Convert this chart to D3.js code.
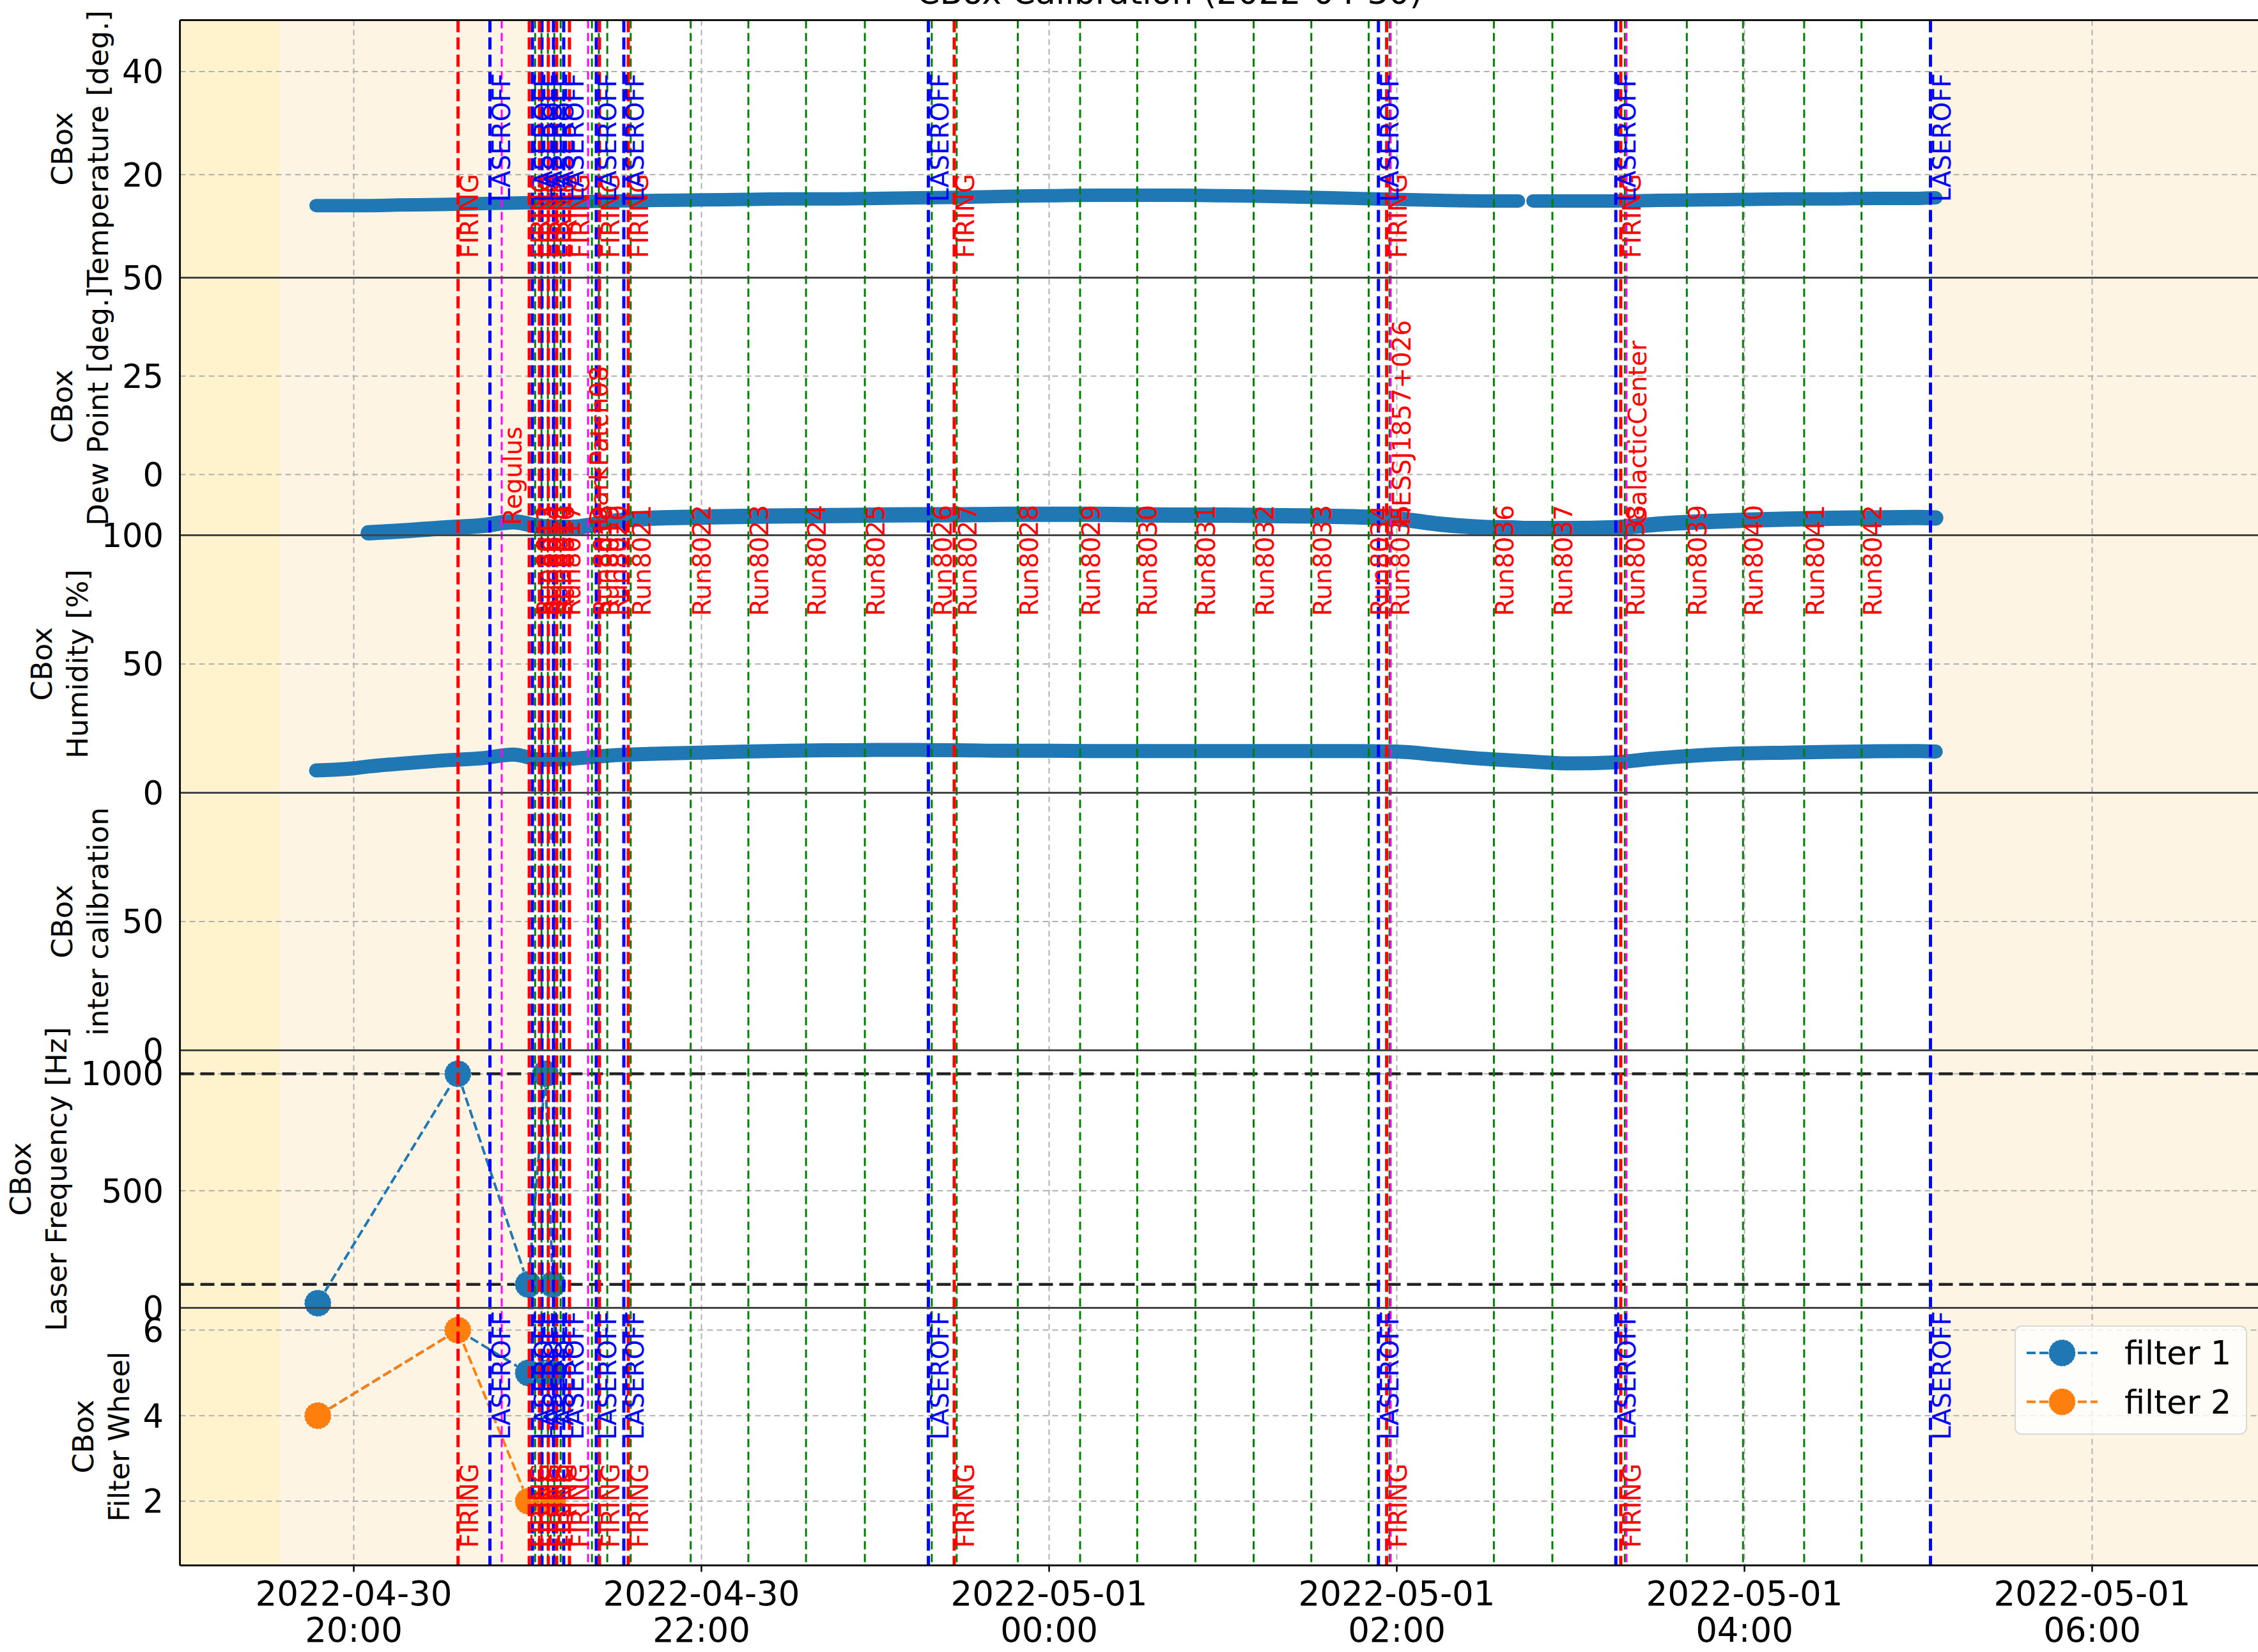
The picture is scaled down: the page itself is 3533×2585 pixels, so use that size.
<!DOCTYPE html>
<html>
<head>
<meta charset="utf-8">
<script src="https://cdn.jsdelivr.net/npm/d3@7"></script>
<style>
  body { margin: 0; background: #fff; }
  text { font-family: "DejaVu Sans", sans-serif; }
</style>
</head>
<body>
<div class="chart"></div>
<script>
// ---- data ----
const sampleTimes = ["2022-04-30 19:47","2022-04-30 20:00","2022-04-30 20:05","2022-04-30 20:15","2022-04-30 20:30","2022-04-30 20:45","2022-04-30 20:55","2022-04-30 21:05","2022-04-30 21:15","2022-04-30 21:30","2022-04-30 21:45","2022-04-30 22:00","2022-04-30 22:15","2022-04-30 22:30","2022-04-30 22:45","2022-04-30 23:00","2022-04-30 23:15","2022-04-30 23:30","2022-04-30 23:45","2022-05-01 00:00","2022-05-01 00:15","2022-05-01 00:30","2022-05-01 00:45","2022-05-01 01:00","2022-05-01 01:15","2022-05-01 01:30","2022-05-01 01:45","2022-05-01 02:00","2022-05-01 02:15","2022-05-01 02:30","2022-05-01 02:42","2022-05-01 02:44","2022-05-01 02:47","2022-05-01 03:00","2022-05-01 03:15","2022-05-01 03:30","2022-05-01 03:45","2022-05-01 04:00","2022-05-01 04:15","2022-05-01 04:30","2022-05-01 04:45","2022-05-01 05:00","2022-05-01 05:06"];
const temperature = [14.0,14.0,14.0,14.1,14.2,14.4,14.5,14.6,14.7,14.9,15.0,15.1,15.2,15.3,15.3,15.4,15.5,15.6,15.8,15.9,16.0,16.0,16.0,15.9,15.8,15.6,15.4,15.2,15.0,14.9,14.9,null,14.9,14.9,14.9,15.0,15.1,15.2,15.3,15.3,15.4,15.4,15.5];
const dewPoint = [null,null,-14.8,-14.4,-13.6,-12.9,-12.0,-13.2,-13.4,-11.8,-11.0,-10.8,-10.6,-10.5,-10.4,-10.3,-10.2,-10.2,-10.1,-10.1,-10.1,-10.2,-10.3,-10.3,-10.4,-10.5,-10.7,-11.2,-12.6,-13.4,-13.6,-13.7,-13.7,-13.7,-13.5,-12.6,-12.0,-11.6,-11.3,-11.1,-11.0,-10.9,-11.0];
const humidity = [8.7,9.5,10.2,11.2,12.5,13.5,14.8,12.8,13.2,14.6,15.2,15.6,16.0,16.3,16.5,16.6,16.6,16.5,16.3,16.3,16.2,16.2,16.2,16.2,16.2,16.2,16.2,16.0,14.6,13.2,12.4,12.3,12.1,11.4,11.8,13.4,14.6,15.3,15.6,15.9,16.1,16.2,16.0];

const interTimes = ["2022-04-30 21:08:40"];
const interValues = [83];

const configTimes = ["2022-04-30 19:47:36","2022-04-30 20:35:55","2022-04-30 21:00:14","2022-04-30 21:06:09","2022-04-30 21:08:40"];
const laserFreq = [20, 1000, 100, 1000, 100];
const laserRefs = [100, 1000];
const filter1 = [4, 6, 5, 5, 5];
const filter2 = [4, 6, 2, 2, 2];

const firingTimes = ["2022-04-30 20:36:00","2022-04-30 21:00:34","2022-04-30 21:04:05","2022-04-30 21:07:10","2022-04-30 21:10:02","2022-04-30 21:14:27","2022-04-30 21:24:49","2022-04-30 21:34:45","2022-04-30 23:27:15","2022-05-01 01:56:30","2022-05-01 03:17:18"];
const laserOffTimes = ["2022-04-30 20:47:00","2022-04-30 21:01:40","2022-04-30 21:04:58","2022-04-30 21:08:56","2022-04-30 21:12:28","2022-04-30 21:23:43","2022-04-30 21:33:13","2022-04-30 23:18:20","2022-05-01 01:53:40","2022-05-01 03:15:36","2022-05-01 05:04:12"];
const sourceNames = ["Regulus","DarkPatch08","HESSJ1857+026","GalacticCenter"];
const sourceTimes = ["2022-04-30 20:51:04","2022-04-30 21:20:52","2022-05-01 01:57:54","2022-05-01 03:19:18"];
const runNames = ["Run8013","Run8014","Run8015","Run8016","Run8017","Run8018","Run8019","Run8020","Run8021","Run8022","Run8023","Run8024","Run8025","Run8026","Run8027","Run8028","Run8029","Run8030","Run8031","Run8032","Run8033","Run8034","Run8035","Run8036","Run8037","Run8038","Run8039","Run8040","Run8041","Run8042"];
const runTimes = ["2022-04-30 21:02:36","2022-04-30 21:04:48","2022-04-30 21:07:00","2022-04-30 21:09:12","2022-04-30 21:11:24","2022-04-30 21:22:12","2022-04-30 21:24:36","2022-04-30 21:27:30","2022-04-30 21:35:36","2022-04-30 21:56:18","2022-04-30 22:16:12","2022-04-30 22:36:06","2022-04-30 22:56:24","2022-04-30 23:19:30","2022-04-30 23:28:06","2022-04-30 23:49:12","2022-05-01 00:10:42","2022-05-01 00:30:24","2022-05-01 00:50:30","2022-05-01 01:10:36","2022-05-01 01:30:30","2022-05-01 01:50:18","2022-05-01 01:57:30","2022-05-01 02:33:30","2022-05-01 02:53:42","2022-05-01 03:18:42","2022-05-01 03:40:06","2022-05-01 03:59:30","2022-05-01 04:20:36","2022-05-01 04:40:24"];

const twilightStart = ["2022-04-30 19:00:00","2022-04-30 19:34:30","2022-05-01 05:04:36"];
const twilightEnd   = ["2022-04-30 19:34:30","2022-04-30 20:59:54","2022-05-01 07:30:00"];
const twilightKind  = ["civil","astro","astro"];

const panelLabels = ["Temperature [deg.]","Dew Point [deg.]","Humidity [%]","inter calibration","Laser Frequency [Hz]","Filter Wheel"];
const panelDomains = [[0,50],[-15.4,50],[0,100],[0,100],[0,1100],[0.5,6.52]];
const panelTicks = [[20,40],[0,25,50],[0,50,100],[0,50],[0,500,1000],[2,4,6]];
const xTickTimes = ["2022-04-30 20:00:00","2022-04-30 22:00:00","2022-05-01 00:00:00","2022-05-01 02:00:00","2022-05-01 04:00:00","2022-05-01 06:00:00"];
const legendNames = ["filter 1","filter 2"];

// ---- layout ----
const W = 3533, H = 2585;
const plotLeft = 281.5, plotRight = 3545.5;
const plotTop = 31.5, panelH = 403;
const plotBottom = plotTop + 6 * panelH;
const blue = "#1f77b4", orange = "#ff7f0e";

const parseT = s => d3.timeParse("%Y-%m-%d %H:%M:%S")(s.length === 16 ? s + ":00" : s);

const svg = d3.select('.chart').append('svg')
    .attr("width", W)
    .attr("height", H);

svg.append("rect").attr("width", W).attr("height", H).attr("fill", "#fff");

const xScale = d3.scaleTime()
    .domain([parseT("2022-04-30 19:00"), parseT("2022-05-01 07:00")])
    .range([plotLeft, plotRight]);

const yScales = panelDomains.map((d, i) => d3.scaleLinear()
    .domain(d)
    .range([plotTop + (i + 1) * panelH, plotTop + i * panelH]));

svg.append("clipPath").attr("id", "plotclip")
  .append("rect")
    .attr("x", plotLeft).attr("y", plotTop)
    .attr("width", plotRight - plotLeft).attr("height", plotBottom - plotTop);

const plot = svg.append("g").attr("clip-path", "url(#plotclip)");

// twilight shading
const shadeColor = {civil: "#fff3cd", astro: "#fdf4e4"};
plot.selectAll("rect.shade")
    .data(twilightStart.map((s, i) => ({s: parseT(s), e: parseT(twilightEnd[i]), k: twilightKind[i]})))
    .enter().append("rect")
    .attr("class", "shade")
    .attr("x", d => xScale(d.s))
    .attr("width", d => xScale(d.e) - xScale(d.s))
    .attr("y", plotTop)
    .attr("height", plotBottom - plotTop)
    .attr("fill", d => shadeColor[d.k]);

// grid
plot.selectAll("line.xgrid")
    .data(xTickTimes.map(parseT))
    .enter().append("line")
    .attr("x1", d => xScale(d)).attr("x2", d => xScale(d))
    .attr("y1", plotTop).attr("y2", plotBottom)
    .attr("stroke", "#b0b0b0").attr("stroke-width", 2).attr("stroke-dasharray", "9,6");

panelTicks.forEach((ticks, i) => {
  plot.selectAll("line.ygrid" + i)
      .data(ticks)
      .enter().append("line")
      .attr("x1", plotLeft).attr("x2", plotRight)
      .attr("y1", d => yScales[i](d)).attr("y2", d => yScales[i](d))
      .attr("stroke", "#b0b0b0").attr("stroke-width", 2).attr("stroke-dasharray", "9,6");
});

// sensor bands (dense scatter drawn as a thick stroke)
const series = [temperature, dewPoint, humidity];
const bandWidth = [21, 24, 22];
series.forEach((vals, i) => {
  const pts = sampleTimes.map((t, j) => ({t: parseT(t), v: vals[j]}));
  const line = d3.line()
      .defined(d => d.v !== null)
      .x(d => xScale(d.t))
      .y(d => yScales[i](d.v))
      .curve(d3.curveMonotoneX);
  plot.append("path")
      .datum(pts)
      .attr("d", line)
      .attr("fill", "none")
      .attr("stroke", blue)
      .attr("stroke-width", bandWidth[i])
      .attr("stroke-linecap", "round")
      .attr("stroke-linejoin", "round");
});

// inter calibration
plot.selectAll("circle.inter")
    .data(interTimes.map((t, i) => ({t: parseT(t), v: interValues[i]})))
    .enter().append("circle")
    .attr("cx", d => xScale(d.t))
    .attr("cy", d => yScales[3](d.v))
    .attr("r", 6)
    .attr("fill", blue).attr("opacity", 0.8);

// laser reference levels
plot.selectAll("line.ref")
    .data(laserRefs)
    .enter().append("line")
    .attr("x1", plotLeft).attr("x2", plotRight)
    .attr("y1", d => yScales[4](d)).attr("y2", d => yScales[4](d))
    .attr("stroke", "#222").attr("stroke-width", 4.5).attr("stroke-dasharray", "22,10");

function drawMarkers(vals, yS, color) {
  const pts = configTimes.map((t, j) => ({t: parseT(t), v: vals[j]}));
  plot.append("path")
      .datum(pts)
      .attr("d", d3.line().x(d => xScale(d.t)).y(d => yS(d.v)))
      .attr("fill", "none")
      .attr("stroke", color)
      .attr("stroke-width", 4)
      .attr("stroke-dasharray", "14,6");
  plot.selectAll(null)
      .data(pts)
      .enter().append("circle")
      .attr("cx", d => xScale(d.t))
      .attr("cy", d => yS(d.v))
      .attr("r", 21)
      .attr("fill", color)
      .attr("stroke", "#fff").attr("stroke-opacity", 0.7)
      .attr("stroke-width", 1.5).attr("stroke-dasharray", "3,3");
}
drawMarkers(laserFreq, yScales[4], blue);
drawMarkers(filter1, yScales[5], blue);
drawMarkers(filter2, yScales[5], orange);

// event lines
function vlines(times, color, width, dash) {
  plot.selectAll(null)
      .data(times.map(parseT))
      .enter().append("line")
      .attr("x1", d => xScale(d)).attr("x2", d => xScale(d))
      .attr("y1", plotTop).attr("y2", plotBottom)
      .attr("stroke", color).attr("stroke-width", width).attr("stroke-dasharray", dash);
}
vlines(runTimes, "#008000", 3, "13,7");
vlines(sourceTimes, "#ff00ff", 3, "13,7");
vlines(laserOffTimes, "#0000ff", 5, "19,8");
vlines(firingTimes, "#ff0000", 5, "19,8");

function vlabels(times, names, y0, color) {
  plot.selectAll(null)
      .data(times.map((t, i) => ({t: parseT(t), n: names[i]})))
      .enter().append("text")
      .attr("transform", d => `translate(${xScale(d.t) + 31},${y0}) rotate(-90)`)
      .attr("font-size", "39px")
      .attr("fill", color)
      .text(d => d.n);
}
const firingNames = firingTimes.map(() => "FIRING");
const laserOffNames = laserOffTimes.map(() => "LASEROFF");
vlabels(runTimes, runNames, 964, "#ff0000");
vlabels(sourceTimes, sourceNames, 822, "#ff0000");
vlabels(firingTimes, firingNames, 404, "#ff0000");
vlabels(firingTimes, firingNames, 2422, "#ff0000");
vlabels(laserOffTimes, laserOffNames, 316, "#0000ff");
vlabels(laserOffTimes, laserOffNames, 2253, "#0000ff");

// panel frames
for (let i = 0; i <= 6; i++) {
  svg.append("line")
      .attr("x1", plotLeft).attr("x2", W)
      .attr("y1", plotTop + i * panelH).attr("y2", plotTop + i * panelH)
      .attr("stroke", i === 0 || i === 6 ? "#111" : "#444")
      .attr("stroke-width", 3);
}
svg.append("line")
    .attr("x1", plotLeft).attr("x2", plotLeft)
    .attr("y1", plotTop).attr("y2", plotBottom)
    .attr("stroke", "#111").attr("stroke-width", 3);

// y axes
panelTicks.forEach((ticks, i) => {
  const g = svg.append("g");
  const labels = g.selectAll("text")
      .data(ticks)
      .enter().append("text")
      .attr("x", 256)
      .attr("y", d => yScales[i](d))
      .attr("dy", "0.36em")
      .attr("text-anchor", "end")
      .attr("font-size", "51px")
      .attr("fill", "#000")
      .text(d => d);
  let maxW = 0;
  labels.each(function() { maxW = Math.max(maxW, this.getComputedTextLength()); });
  const x2 = 256 - maxW - 22;
  const yc = plotTop + (i + 0.5) * panelH;
  const lab = svg.append("text")
      .attr("transform", `translate(${x2},${yc}) rotate(-90)`)
      .attr("text-anchor", "middle")
      .attr("font-size", "45px")
      .attr("fill", "#000");
  lab.append("tspan").attr("x", 0).attr("y", -56).text("CBox");
  lab.append("tspan").attr("x", 0).attr("y", 0).text(panelLabels[i]);
});

// x axis
const xt = svg.append("g").selectAll("g")
    .data(xTickTimes.map(parseT))
    .enter().append("g")
    .attr("transform", d => `translate(${xScale(d)},0)`);
xt.append("line")
    .attr("y1", plotBottom).attr("y2", plotBottom + 10)
    .attr("stroke", "#000").attr("stroke-width", 2.5);
xt.append("text")
    .attr("y", 2512).attr("text-anchor", "middle").attr("font-size", "53px")
    .text(d => d3.timeFormat("%Y-%m-%d")(d));
xt.append("text")
    .attr("y", 2569).attr("text-anchor", "middle").attr("font-size", "53px")
    .text(d => d3.timeFormat("%H:%M")(d));

// title (cut off at the top edge of the picture)
svg.append("text")
    .attr("x", 1830).attr("y", 6)
    .attr("text-anchor", "middle")
    .attr("font-size", "52px")
    .text("CBox Calibration (2022-04-30)");

// legend
const lg = svg.append("g");
lg.append("rect")
    .attr("x", 3153).attr("y", 2075).attr("width", 362).attr("height", 169)
    .attr("rx", 10).attr("fill", "#fff").attr("fill-opacity", 0.8)
    .attr("stroke", "#d8d8d8").attr("stroke-width", 2);
[blue, orange].forEach((c, i) => {
  const yy = 2117 + i * 76.5;
  lg.append("line")
      .attr("x1", 3171).attr("x2", 3282).attr("y1", yy).attr("y2", yy)
      .attr("stroke", c).attr("stroke-width", 4).attr("stroke-dasharray", "14,6");
  lg.append("circle")
      .attr("cx", 3226.5).attr("cy", yy).attr("r", 21)
      .attr("fill", c).attr("stroke", "#fff").attr("stroke-opacity", 0.7)
      .attr("stroke-width", 1.5).attr("stroke-dasharray", "3,3");
  lg.append("text")
      .attr("x", 3324).attr("y", yy).attr("dy", "0.36em")
      .attr("font-size", "51px")
      .text(legendNames[i]);
});
</script>
</body>
</html>
